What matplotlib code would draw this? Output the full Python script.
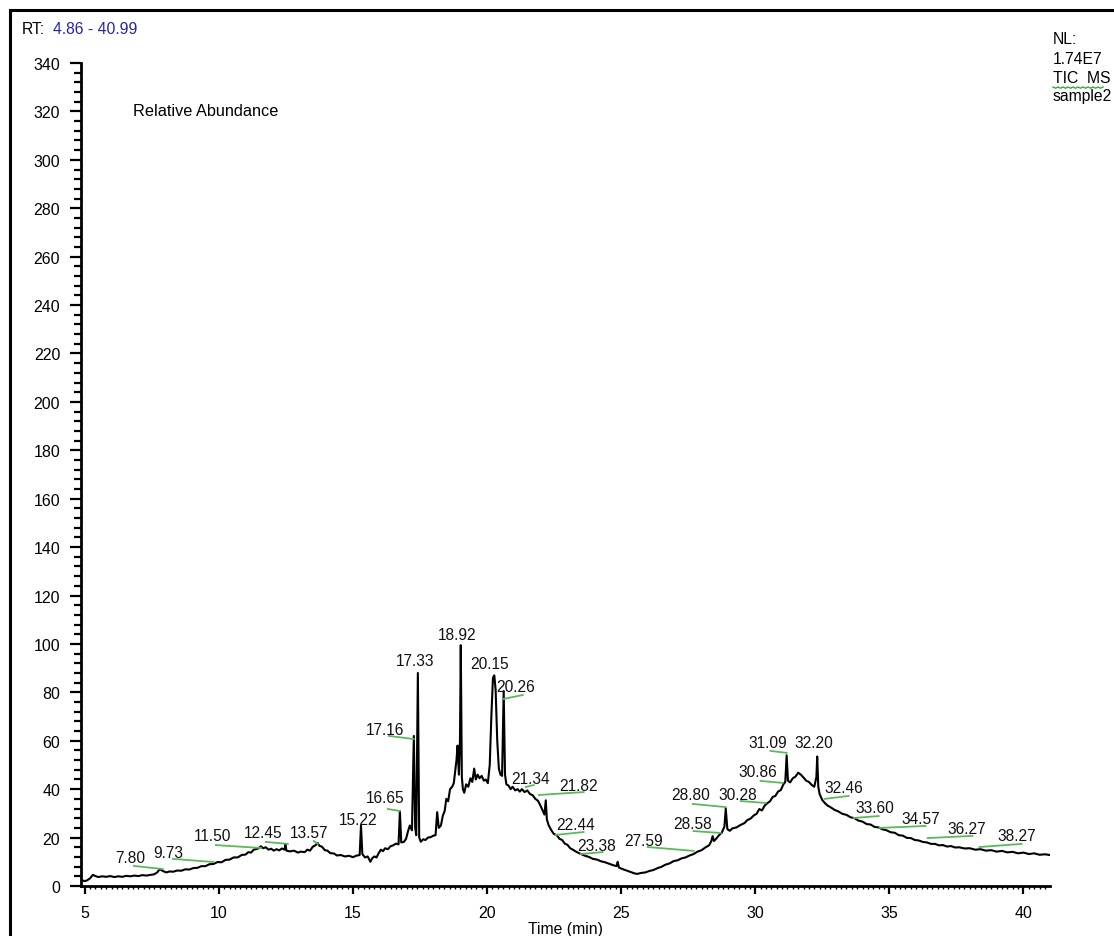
import numpy as np
import matplotlib
matplotlib.use('Agg')
import matplotlib.pyplot as plt
from matplotlib.ticker import MultipleLocator
from matplotlib.lines import Line2D

plt.rcParams['font.family'] = ['Liberation Sans', 'DejaVu Sans']

# chromatogram trace (time in min, relative abundance)
times = [4.86, 5.0, 5.1, 5.2, 5.3, 5.38, 5.5, 5.65, 5.8, 5.95,
         6.1, 6.25, 6.4, 6.55, 6.7, 6.85, 7.0, 7.15, 7.3, 7.45,
         7.58, 7.7, 7.8, 7.88, 7.95, 8.05, 8.15, 8.3, 8.45, 8.6,
         8.75, 8.9, 9.05, 9.2, 9.35, 9.5, 9.65, 9.8, 9.95, 10.1,
         10.25, 10.4, 10.55, 10.7, 10.85, 11.0, 11.1, 11.2, 11.3, 11.45,
         11.57, 11.65, 11.75, 11.85, 11.95, 12.05, 12.15, 12.25, 12.35, 12.45,
         12.48, 12.52, 12.65, 12.8, 12.95, 13.05, 13.2, 13.3, 13.4, 13.5,
         13.6, 13.68, 13.75, 13.85, 13.95, 14.05, 14.15, 14.3, 14.4, 14.55,
         14.7, 14.85, 15.0, 15.12, 15.25, 15.3, 15.35, 15.45, 15.55, 15.65,
         15.72, 15.8, 15.88, 15.95, 16.04, 16.12, 16.2, 16.3, 16.4, 16.5,
         16.6, 16.7, 16.75, 16.8, 16.9, 16.98, 17.05, 17.12, 17.2, 17.27,
         17.32, 17.36, 17.42, 17.47, 17.53, 17.62, 17.7, 17.8, 17.9, 18.0,
         18.08, 18.14, 18.2, 18.28, 18.35, 18.42, 18.48, 18.55, 18.62, 18.7,
         18.76, 18.82, 18.86, 18.9, 18.95, 18.99, 19.02, 19.06, 19.1, 19.15,
         19.22, 19.3, 19.38, 19.45, 19.52, 19.58, 19.65, 19.72, 19.8, 19.88,
         19.95, 20.03, 20.1, 20.16, 20.22, 20.27, 20.32, 20.38, 20.44, 20.5,
         20.56, 20.62, 20.67, 20.72, 20.8, 20.88, 20.95, 21.05, 21.14, 21.22,
         21.3, 21.4, 21.5, 21.6, 21.7, 21.8, 21.9, 22.0, 22.08, 22.14,
         22.19, 22.23, 22.3, 22.4, 22.49, 22.6, 22.7, 22.8, 22.9, 23.0,
         23.1, 23.2, 23.35, 23.5, 23.65, 23.8, 23.95, 24.1, 24.25, 24.4,
         24.55, 24.7, 24.83, 24.87, 24.92, 25.05, 25.2, 25.35, 25.5, 25.6,
         25.75, 25.9, 26.05, 26.2, 26.36, 26.5, 26.65, 26.8, 26.96, 27.1,
         27.25, 27.4, 27.55, 27.7, 27.85, 28.0, 28.15, 28.28, 28.36, 28.41,
         28.46, 28.55, 28.65, 28.75, 28.85, 28.9, 28.96, 29.05, 29.15, 29.3,
         29.45, 29.6, 29.7, 29.82, 29.95, 30.05, 30.15, 30.25, 30.35, 30.45,
         30.55, 30.65, 30.75, 30.85, 30.95, 31.05, 31.12, 31.17, 31.22, 31.3,
         31.4, 31.5, 31.6, 31.7, 31.8, 31.9, 32.0, 32.1, 32.2, 32.28,
         32.31, 32.35, 32.4, 32.5, 32.6, 32.7, 32.8, 32.95, 33.1, 33.25,
         33.4, 33.55, 33.7, 33.85, 34.0, 34.15, 34.3, 34.45, 34.6, 34.75,
         34.9, 35.05, 35.2, 35.35, 35.5, 35.65, 35.8, 35.95, 36.1, 36.25,
         36.4, 36.55, 36.7, 36.85, 37.0, 37.15, 37.3, 37.45, 37.6, 37.8,
         38.0, 38.2, 38.4, 38.6, 38.8, 39.0, 39.2, 39.4, 39.6, 39.8,
         40.0, 40.2, 40.4, 40.6, 40.8, 40.99]
abundance = [2.5, 2.0, 2.4, 3.2, 4.6, 4.2, 3.7, 4.0, 3.8, 4.1,
             3.7, 4.0, 3.8, 4.2, 4.0, 4.3, 4.1, 4.5, 4.3, 4.6,
             4.8, 5.6, 7.0, 6.4, 6.0, 5.6, 6.0, 5.9, 6.4, 6.3,
             6.9, 6.8, 7.4, 7.5, 8.2, 8.2, 9.0, 9.1, 9.9, 9.8,
             10.8, 10.9, 11.8, 11.8, 12.8, 13.0, 14.0, 13.8, 15.0, 15.4,
             16.4, 15.6, 16.0, 15.0, 15.4, 14.6, 15.2, 14.7, 15.5, 15.0,
             17.2, 14.6, 14.3, 14.6, 13.8, 14.2, 14.0, 15.0, 14.6, 16.2,
             16.8, 17.8, 16.6, 16.2, 14.8, 14.6, 13.6, 13.4, 12.6, 12.8,
             12.2, 12.5, 11.9, 12.5, 12.8, 25.0, 13.2, 11.8, 12.2, 10.0,
             11.5, 12.2, 11.8, 13.4, 15.0, 14.4, 15.6, 15.2, 16.4, 16.8,
             17.5, 17.2, 31.0, 18.0, 18.2, 19.5, 22.5, 25.0, 23.0, 62.0,
             24.0, 21.0, 88.0, 20.0, 18.3, 19.3, 19.0, 20.0, 20.2, 20.8,
             21.0, 30.5, 24.0, 25.0, 29.0, 31.0, 36.0, 35.0, 40.0, 41.0,
             42.5, 48.0, 52.0, 58.0, 46.0, 60.0, 99.5, 45.0, 40.0, 38.5,
             42.0, 41.0, 44.5, 43.0, 48.5, 44.0, 46.0, 44.5, 45.5, 43.5,
             44.0, 42.5, 50.0, 70.0, 86.0, 87.0, 81.0, 60.0, 48.5, 46.0,
             45.5, 80.5, 46.0, 42.0, 41.5, 40.0, 41.0, 39.5, 40.0, 39.0,
             40.0, 38.8, 39.5, 38.0, 37.5, 36.0, 35.2, 33.0, 31.0, 29.5,
             35.4, 27.5, 25.0, 23.0, 21.5, 21.0, 19.5, 19.0, 17.5, 17.0,
             15.6, 15.0, 14.0, 13.2, 12.5, 12.0, 11.2, 10.9, 10.2, 9.8,
             9.2, 8.6, 8.2, 10.0, 7.6, 7.0, 6.4, 5.8, 5.2, 5.0,
             5.4, 5.6, 6.2, 6.6, 7.4, 7.9, 8.8, 9.3, 10.3, 10.6,
             11.4, 11.8, 12.6, 13.2, 14.2, 14.8, 16.0, 16.8, 18.5, 20.6,
             18.6, 19.6, 21.0, 22.0, 24.5, 32.0, 23.5, 22.8, 23.8, 24.2,
             25.2, 26.0, 27.2, 27.8, 29.2, 29.8, 31.8, 31.2, 33.2, 34.2,
             35.0, 36.8, 37.2, 39.0, 39.6, 42.0, 43.0, 54.0, 43.5, 42.8,
             44.5, 45.2, 46.8, 46.0, 44.8, 43.5, 43.0, 41.8, 41.0, 45.0,
             53.5, 41.0, 38.0, 35.5, 34.2, 33.2, 32.6, 31.5, 30.8, 29.8,
             29.4, 28.4, 28.0, 27.0, 26.6, 25.6, 25.4, 24.4, 24.2, 23.4,
             23.0, 22.2, 22.0, 21.0, 20.8, 19.9, 19.8, 19.0, 18.8, 18.2,
             18.0, 17.4, 17.4, 16.8, 16.9, 16.3, 16.5, 15.9, 16.0, 15.5,
             15.6, 15.0, 15.2, 14.6, 14.8, 14.2, 14.5, 13.9, 14.1, 13.5,
             13.8, 13.2, 13.5, 12.9, 13.1, 12.8]

# peak labels: text, text centre, leader line start/end (data units)
peak_labels = ['7.80', '9.73', '11.50', '12.45', '13.57', '15.22', '16.65', '17.16', '17.33',
               '18.92', '20.15', '20.26', '21.34', '21.82', '22.44', '23.38', '27.59', '28.58',
               '28.80', '30.28', '30.86', '31.09', '32.20', '32.46', '33.60', '34.57', '36.27',
               '38.27']
label_xy = [(6.68, 11.6), (8.10, 14.0), (9.78, 20.7), (11.64, 21.9), (13.35, 22.3), (15.18, 27.3),
            (16.19, 36.4), (16.19, 64.5), (17.31, 93.0), (18.87, 104.1), (20.10, 92.1),
            (21.07, 82.6), (21.63, 44.6), (23.42, 41.7), (23.31, 25.6), (24.09, 16.9),
            (25.84, 19.0), (27.67, 26.0), (27.59, 37.6), (29.34, 38.0), (30.09, 47.1),
            (30.46, 59.1), (32.18, 59.1), (33.29, 40.5), (34.45, 32.6), (36.16, 27.7),
            (37.88, 23.6), (39.74, 20.7)]
leaders = [((6.83, 8.3), (7.91, 7.0)), ((8.29, 11.2), (9.81, 9.9)), ((9.89, 16.9), (11.57, 15.7)),
           ((11.75, 18.2), (12.57, 17.4)), ((13.54, 18.6), (13.69, 17.4)), None,
           ((16.30, 31.8), (16.75, 31.0)), ((16.34, 62.0), (17.27, 60.7)), None, None, None,
           ((20.62, 77.3), (21.33, 78.9)), ((21.44, 40.9), (21.74, 41.7)),
           ((21.93, 37.6), (23.60, 38.8)), ((22.56, 21.1), (23.60, 22.3)),
           ((23.49, 13.2), (24.31, 14.0)), ((25.99, 16.1), (27.70, 14.5)),
           ((27.70, 22.7), (28.71, 21.9)), ((27.67, 33.9), (28.90, 32.6)),
           ((29.46, 35.1), (30.39, 34.3)), ((30.20, 43.4), (31.02, 42.6)),
           ((30.57, 55.8), (31.17, 55.0)), None, ((32.59, 36.0), (33.48, 37.2)),
           ((33.67, 28.1), (34.60, 28.9)), ((34.64, 24.0), (36.35, 24.8)),
           ((36.43, 19.8), (38.10, 20.7)), ((38.36, 16.1), (39.93, 17.4))]

W, H = 1114, 937
fig = plt.figure(figsize=(W / 100, H / 100), dpi=100)
ax = fig.add_axes([81 / W, 50 / H, 969 / W, 823 / H])

ax.plot(times, abundance, color='black', lw=1.5)

green = '#5cb85c'
for lab, (tx, ty), ld in zip(peak_labels, label_xy, leaders):
    ax.text(tx, ty, lab, ha='center', va='center', fontsize=11.2, color='#111111')
    if ld is not None:
        ax.plot([ld[0][0], ld[1][0]], [ld[0][1], ld[1][1]], color=green, lw=1.3)

ax.set_xlim(4.86, 40.99)
ax.set_ylim(0, 340)
for s in ['top', 'right']:
    ax.spines[s].set_visible(False)
for s in ['left', 'bottom']:
    ax.spines[s].set_linewidth(2)

ax.xaxis.set_major_locator(MultipleLocator(5))
ax.xaxis.set_minor_locator(MultipleLocator(0.2))
ax.yaxis.set_major_locator(MultipleLocator(20))
ax.yaxis.set_minor_locator(MultipleLocator(4))
ax.tick_params(axis='y', which='major', length=8, width=1.6, pad=7, labelsize=11.5)
ax.tick_params(axis='y', which='minor', length=5, width=1.6)
ax.tick_params(axis='x', which='major', length=6, width=1.6, pad=8, labelsize=11.5)
ax.tick_params(axis='x', which='minor', length=2.5, width=1.0)

# outer frame of the screenshot
fig.add_artist(Line2D([10 / W, 10 / W], [0, 1 - 11 / H], color='black', lw=2.2))
fig.add_artist(Line2D([10 / W, 1], [1 - 11 / H, 1 - 11 / H], color='black', lw=2.2))

fig.text(22 / W, 1 - 29 / H, 'RT:', fontsize=11.3, va='center', ha='left')
fig.text(53 / W, 1 - 29 / H, '4.86 - 40.99', fontsize=11.3, va='center', ha='left', color='#2525a5')
fig.text(133 / W, 1 - 112 / H, 'Relative Abundance', fontsize=11.7, va='center', ha='left')

fig.text(1053 / W, 1 - 40 / H, 'NL:', fontsize=11.3, va='center', ha='left')
fig.text(1053 / W, 1 - 60 / H, '1.74E7', fontsize=11.3, va='center', ha='left')
fig.text(1053 / W, 1 - 79 / H, 'TIC  MS', fontsize=11.3, va='center', ha='left')
fig.text(1053 / W, 1 - 96 / H, 'sample2', fontsize=11.3, va='center', ha='left')
wx = np.arange(1053, 1104, 2.5)
wy = 88 + 1.2 * (np.arange(len(wx)) % 2)
fig.add_artist(Line2D(wx / W, 1 - wy / H, color='#3aa63a', lw=1.0))

fig.text(565 / W, 1 - 930 / H, 'Time (min)', fontsize=11.3, va='center', ha='center')

fig.savefig('out.png', dpi=100)
